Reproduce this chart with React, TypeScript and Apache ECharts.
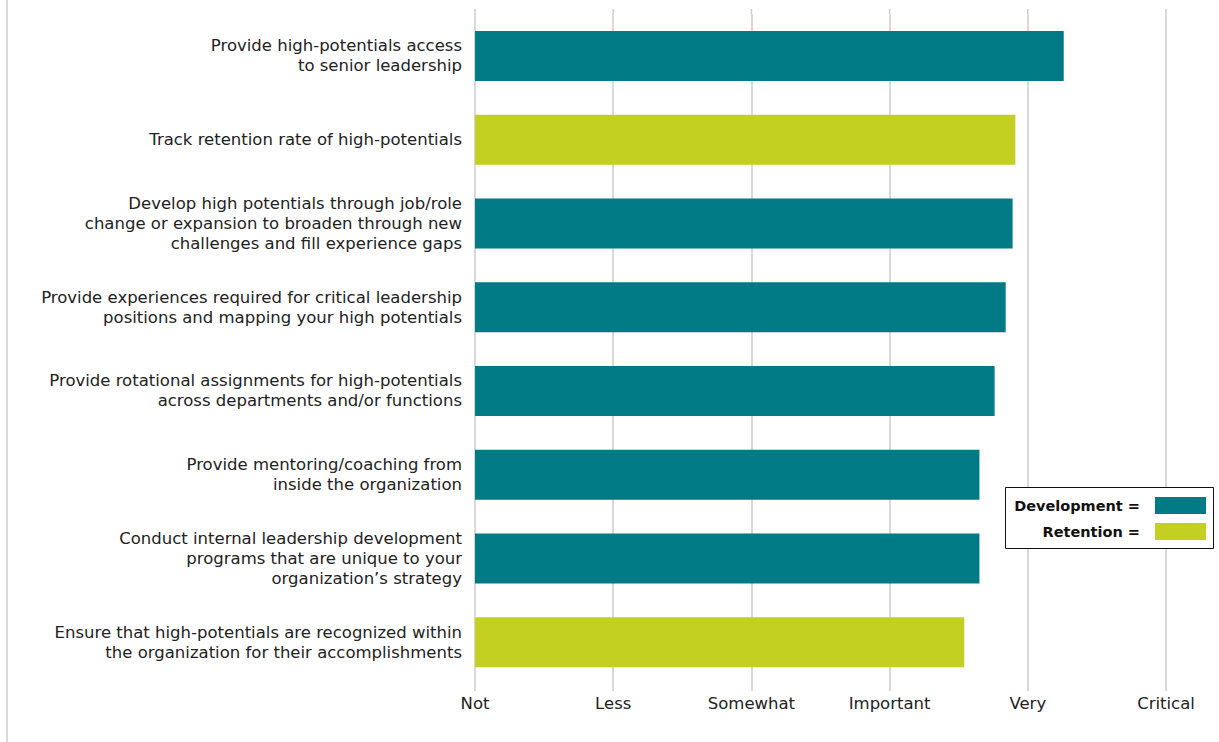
import React, { useEffect, useRef } from "react";
import * as echarts from "echarts";

const categories = [
  "Provide high-potentials access\nto senior leadership",
  "Track retention rate of high-potentials",
  "Develop high potentials through job/role\nchange or expansion to broaden through new\nchallenges and fill experience gaps",
  "Provide experiences required for critical leadership\npositions and mapping your high potentials",
  "Provide rotational assignments for high-potentials\nacross departments and/or functions",
  "Provide mentoring/coaching from\ninside the organization",
  "Conduct internal leadership development\nprograms that are unique to your\norganization\u2019s strategy",
  "Ensure that high-potentials are recognized within\nthe organization for their accomplishments",
];

const developmentValues = [4.26, null, 3.89, 3.84, 3.76, 3.65, 3.65, null];
const retentionValues = [null, 3.91, null, null, null, null, null, 3.54];

const scaleLabels = ["Not", "Less", "Somewhat", "Important", "Very", "Critical"];

const legendItems = ["Development", "Retention"];
const legendColors = ["#007A84", "#C3CF21"];

const FONT = "'DejaVu Sans', 'Open Sans', sans-serif";

export default function App() {
  const ref = useRef<HTMLDivElement>(null);

  useEffect(() => {
    if (!ref.current) return;
    const chart = echarts.init(ref.current, undefined, { renderer: "svg" });
    chart.setOption({
      animation: false,
      backgroundColor: "#ffffff",
      textStyle: { fontFamily: FONT },
      grid: { left: 475, right: 53, top: 14, bottom: 58, containLabel: false },
      xAxis: {
        type: "value",
        min: 0,
        max: 5,
        interval: 1,
        axisLine: { show: false },
        axisTick: {
          show: true,
          length: 7,
          lineStyle: { color: "#cccccc", width: 1.5 },
        },
        splitLine: { show: true, lineStyle: { color: "#cccccc", width: 1.5 } },
        axisLabel: {
          margin: 11,
          fontSize: 16.5,
          color: "#222",
          fontFamily: FONT,
          formatter: (v: number) => scaleLabels[Math.round(v)] ?? "",
        },
      },
      yAxis: {
        type: "category",
        inverse: true,
        data: categories,
        axisLine: { show: false },
        axisTick: { show: false },
        axisLabel: {
          margin: 13,
          fontSize: 16.5,
          lineHeight: 20,
          color: "#222",
          align: "right",
          fontFamily: FONT,
        },
      },
      series: [
        {
          name: legendItems[0],
          type: "bar",
          stack: "all",
          barWidth: 50,
          data: developmentValues,
          itemStyle: { color: legendColors[0] },
        },
        {
          name: legendItems[1],
          type: "bar",
          stack: "all",
          barWidth: 50,
          data: retentionValues,
          itemStyle: { color: legendColors[1] },
        },
      ],
      graphic: [
        {
          type: "rect",
          shape: { x: 6, y: 0, width: 2, height: 742 },
          style: { fill: "#d8d8d8" },
        },
        {
          type: "group",
          children: [0, 1, 2, 3, 4, 5].map((i) => ({
            type: "line",
            shape: {
              x1: 475 + i * 138.2,
              y1: 9,
              x2: 475 + i * 138.2,
              y2: 14,
            },
            style: { stroke: "#cccccc", lineWidth: 1.5 },
          })),
        },
        {
          type: "rect",
          shape: { x: 1005.5, y: 487.5, width: 208, height: 61 },
          style: { fill: "#ffffff", stroke: "#111111", lineWidth: 1 },
          z: 10,
        },
        ...legendItems.flatMap((name, i) => [
          {
            type: "text",
            x: 1140,
            y: 505.5 + i * 26,
            z: 11,
            style: {
              text: name + " =",
              align: "right",
              verticalAlign: "middle",
              fontFamily: FONT,
              fontSize: 14.5,
              fontWeight: "bold",
              fill: "#111111",
            },
          },
          {
            type: "rect",
            shape: { x: 1155, y: 497 + i * 26, width: 51, height: 17 },
            style: { fill: legendColors[i] },
            z: 11,
          },
        ]),
      ],
    });
    return () => chart.dispose();
  }, []);

  return (
    <div
      ref={ref}
      style={{ position: "fixed", left: 0, top: 0, width: 1219, height: 742 }}
    />
  );
}
